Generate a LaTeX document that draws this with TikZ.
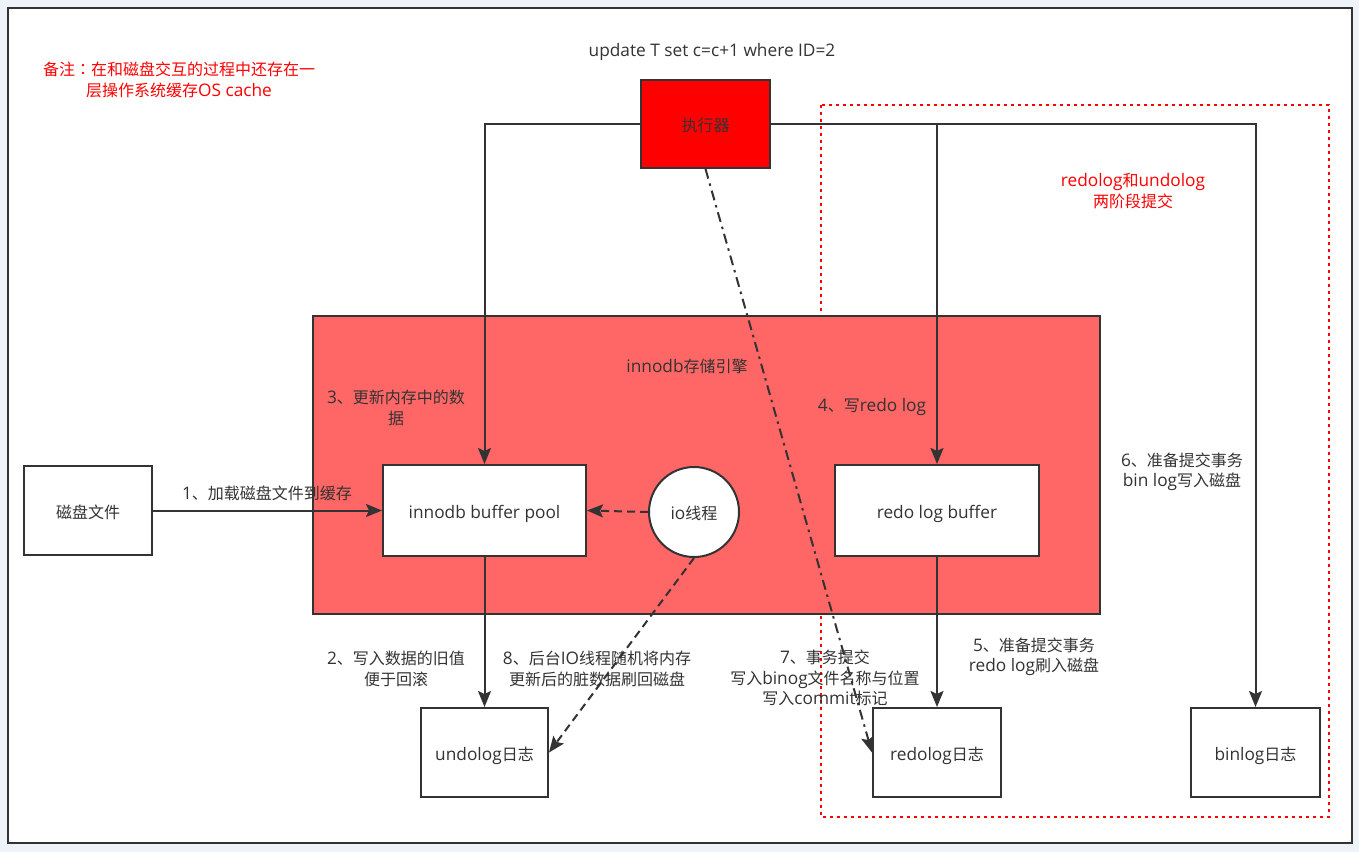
\documentclass[tikz,border=0pt]{standalone}
\usepackage{fontspec}
\setmainfont{Noto Sans CJK SC}
\newfontfamily\lat{Open Sans}[Scale=1.08]
\newfontfamily\tcfont{Noto Sans CJK TC}
\usetikzlibrary{arrows.meta}
\definecolor{ln}{HTML}{333333}
\definecolor{bgc}{HTML}{EEF2F9}
\definecolor{eng}{HTML}{FF6666}
\definecolor{rd}{HTML}{FF0000}
\tikzset{
  txt/.style={font=\fontsize{16}{20.5}\selectfont, text=ln, align=center, inner sep=0pt},
  redtxt/.style={txt, text=rd},
  box/.style={txt, draw=ln, line width=2pt, fill=white, text height=15pt, text depth=0pt},
  conn/.style={draw=ln, line width=2pt, -{Stealth[length=16pt,width=13pt,inset=3pt]}},
  dashconn/.style={conn, dash pattern=on 8pt off 5pt},
  dotdashconn/.style={conn, dash pattern=on 10pt off 5pt on 2.5pt off 5pt},
}
\begin{document}
\begin{tikzpicture}[x=1pt,y=-1pt]
\useasboundingbox (0,0) rectangle (1359,852);
\fill[bgc] (0,0) rectangle (1359,852);
\draw[ln, line width=2pt, fill=white] (8,8) rectangle (1352,843);
% red dotted two-phase frame
\draw[rd, line width=2.5pt, dash pattern=on 3pt off 4pt] (821,105) rectangle (1329,817);
% storage engine
\node[draw=ln, line width=2pt, fill=eng, minimum width=787pt, minimum height=298pt, inner sep=0pt] (engine) at (706.5,465) {};
\node[txt] (engtitle) at (687,366) {{\lat innodb}存储引擎};

% nodes
\node[box, fill=rd, minimum width=129pt, minimum height=88pt] (exec) at (705.5,124) {执行器};
\node[box, minimum width=203pt, minimum height=91pt] (bp) at (484.5,510.5) {\lat innodb buffer pool};
\node[box, circle, minimum size=90pt] (io) at (694,512) {{\lat io}线程};
\node[box, minimum width=204pt, minimum height=91pt] (rb) at (937,510.5) {\lat redo log buffer};
\node[box, minimum width=128pt, minimum height=89pt] (disk) at (88,510.5) {磁盘文件};
\node[box, minimum width=127pt, minimum height=89pt] (undo) at (484.5,752.5) {{\lat undolog}日志};
\node[box, minimum width=128pt, minimum height=89pt] (redo) at (937,752.5) {{\lat redolog}日志};
\node[box, minimum width=129pt, minimum height=89pt] (bin) at (1255.5,752.5) {{\lat binlog}日志};

% connectors
\draw[conn] (exec.west) -| (bp.north);
\draw[conn] (exec.east) -| (bin.north);
\draw[conn] (rb.north |- exec.east) -- (rb.north);
\draw[conn] (disk.east) -- (bp.west);
\draw[dashconn] (io.west) -- (bp.east);
\draw[dashconn] (io.south) -- (undo.east);
\draw[conn] (bp.south) -- (undo.north);
\draw[conn] (rb.south) -- (redo.north);
\draw[dotdashconn] (exec.south) -- (redo.west);

% labels
\node[txt] (sql) at (712,52) {\lat update T set c=c+1 where ID=2};
\node[redtxt] (note) at (179,80) {备注{\tcfont ：}在和磁盘交互的过程中还存在一\\层操作系统缓存{\lat OS cache}};
\node[redtxt] (twophase) at (1133,191) {{\lat redolog}和{\lat undolog}\\两阶段提交};
\node[txt] (l1) at (267,493) {{\lat 1}、加载磁盘文件到缓存};
\node[txt] (l3) at (396,408) {{\lat 3}、更新内存中的数\\据};
\node[txt] (l4) at (872,407) {{\lat 4}、写{\lat redo log}};
\node[txt] (l6) at (1182,472) {{\lat 6}、准备提交事务\\{\lat bin log}写入磁盘};
\node[txt] (l2) at (396,669) {{\lat 2}、写入数据的旧值\\便于回滚};
\node[txt] (l8) at (597,669) {{\lat 8}、后台{\lat IO}线程随机将内存\\更新后的脏数据刷回磁盘};
\node[txt] (l7) at (825,678) {{\lat 7}、事务提交\\写入{\lat binog}文件名称与位置\\写入{\lat commit}标记};
\node[txt] (l5) at (1034,657) {{\lat 5}、准备提交事务\\{\lat redo log}刷入磁盘};
\end{tikzpicture}
\end{document}
